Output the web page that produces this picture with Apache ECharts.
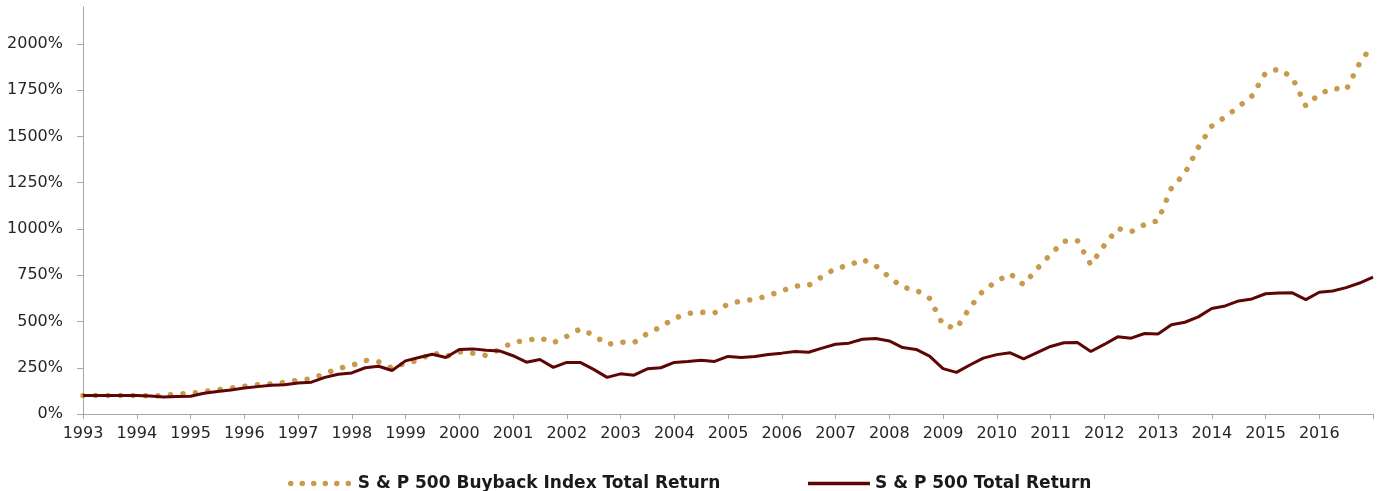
<!DOCTYPE html>
<html>
<head>
<meta charset="utf-8">
<script src="https://cdn.jsdelivr.net/npm/echarts@6/dist/echarts.min.js"></script>
<style>
  html, body { margin: 0; padding: 0; background: #fff; }
  #chart { width: 1377px; height: 491px; }
</style>
</head>
<body>
<div id="chart"></div>
<script>
var years = [1993, 1994, 1995, 1996, 1997, 1998, 1999, 2000, 2001, 2002, 2003, 2004,
             2005, 2006, 2007, 2008, 2009, 2010, 2011, 2012, 2013, 2014, 2015, 2016, 2017];
var yTicks = [0, 250, 500, 750, 1000, 1250, 1500, 1750, 2000];

// quarterly total return, start = 100%
var buyback = [100, 100, 100, 100, 100, 98, 100, 108, 110, 122, 131, 140, 149, 158, 162, 171,
               183, 190, 219, 246, 262, 290, 282, 248, 275, 290, 332, 310, 336, 329, 316, 349,
               388, 397, 412, 385, 420, 460, 426, 376, 388, 386, 435, 471, 517, 543, 550, 546,
               595, 611, 620, 640, 665, 692, 695, 742, 787, 803, 836, 801, 740, 685, 670, 625,
               482, 462, 575, 668, 717, 758, 699, 785, 863, 934, 938, 807, 911, 1003, 985, 1024,
               1045, 1222, 1301, 1441, 1556, 1606, 1660, 1720, 1844, 1865, 1818, 1665, 1729, 1761, 1752, 1896,
               1998];
var sp500 = [100, 100, 100, 100, 100, 97, 92, 94, 96, 112, 122, 130, 140, 148, 155, 158,
             168, 172, 198, 215, 222, 250, 258, 235, 287, 305, 323, 305, 349, 352, 345, 341,
             315, 280, 295, 252, 279, 279, 241, 198, 217, 210, 244, 250, 279, 284, 291, 284,
             311, 305, 311, 322, 329, 338, 334, 356, 377, 383, 404, 408, 395, 359, 349, 313,
             245, 225, 265, 302, 321, 331, 298, 332, 365, 385, 386, 338, 376, 417, 410, 435,
             433, 482, 496, 525, 570, 584, 611, 622, 650, 654, 655, 618, 658, 665, 683, 708,
             740];

var quarters = [];
years.forEach(function (y, i) {
    if (i < years.length - 1) {
        for (var q = 1; q <= 4; q++) quarters.push(y + ' Q' + q);
    } else {
        quarters.push(y + ' Q1');
    }
});

var gold = '#c89a4b';
var maroon = '#5e0606';
var axisGrey = '#a6a6a6';
var dots = [0.01, 12.5];

var myChart = echarts.init(document.getElementById('chart'));
var option = {
    animation: false,
    grid: { left: 83, right: 4, top: 7, bottom: 77 },
    legend: {
        left: 283,
        top: 470,
        itemGap: 86,
        itemWidth: 62,
        itemHeight: 14,
        itemStyle: { opacity: 0 },
        textStyle: { fontFamily: 'DejaVu Sans', fontWeight: 'bold', fontSize: 17, color: '#1a1a1a' },
        data: [{
            name: 'S & P 500 Buyback Index Total Return',
            lineStyle: { color: gold, width: 5.5, type: [0.01, 11.5], cap: 'round' }
        }, {
            name: 'S & P 500 Total Return',
            lineStyle: { color: maroon, width: 3.5 }
        }]
    },
    xAxis: {
        type: 'category',
        data: quarters,
        boundaryGap: false,
        axisLine: { lineStyle: { color: axisGrey, width: 1 } },
        axisTick: { interval: 3, length: 5, lineStyle: { color: axisGrey } },
        axisLabel: {
            interval: 3,
            margin: 12,
            fontFamily: 'DejaVu Sans',
            fontSize: 16,
            color: '#262626',
            formatter: function (v, idx) {
                if (idx === quarters.length - 1) return '';
                return v.slice(0, 4);
            }
        },
        splitLine: { show: false }
    },
    yAxis: {
        type: 'value',
        min: 0,
        max: 2200,
        interval: 250,
        axisLine: { show: true, lineStyle: { color: axisGrey, width: 1 } },
        axisTick: { show: true, length: 6, customValues: yTicks, lineStyle: { color: axisGrey } },
        axisLabel: {
            customValues: yTicks,
            margin: 20,
            fontFamily: 'DejaVu Sans',
            fontSize: 16,
            color: '#262626',
            formatter: function (v) { return v + '%'; }
        },
        splitLine: { show: false }
    },
    series: [{
        name: 'S & P 500 Buyback Index Total Return',
        type: 'line',
        data: buyback,
        showSymbol: false,
        symbol: 'none',
        color: gold,
        lineStyle: { color: gold, width: 5.5, type: dots, cap: 'round' }
    }, {
        name: 'S & P 500 Total Return',
        type: 'line',
        data: sp500,
        showSymbol: false,
        symbol: 'none',
        color: maroon,
        lineStyle: { color: maroon, width: 3 }
    }]
};
myChart.setOption(option);
</script>
</body>
</html>
